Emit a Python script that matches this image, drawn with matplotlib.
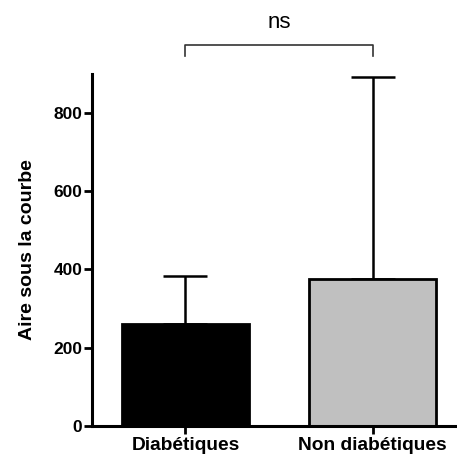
import matplotlib.pyplot as plt

plt.rcParams['font.family'] = ['Liberation Sans', 'DejaVu Sans']

groups = ['Diabétiques', 'Non diabétiques']
means = [261, 376]
upper_err = [122, 516]
bar_colors = ['black', '#c0c0c0']
y_ticks = [0, 200, 400, 600, 800]

fig = plt.figure(figsize=(4.57, 4.54), dpi=100)
ax = fig.add_axes([0.201, 0.062, 0.799, 0.775])

x = list(range(len(groups)))
ax.bar(x, means, width=0.68, color=bar_colors, edgecolor='black', linewidth=2, zorder=2)
ax.errorbar(x, means, yerr=[[0] * len(means), upper_err], fmt='none', ecolor='black',
            elinewidth=1.8, capsize=16, capthick=1.8, zorder=1)

ax.set_xlim(-0.5, 1.45)
ax.set_ylim(0, 900)
ax.set_yticks(y_ticks)
ax.set_xticks(x)
ax.set_xticklabels(groups, fontsize=13.8, fontweight='bold')
ax.set_yticklabels([str(v) for v in y_ticks], fontsize=12.5, fontweight='bold')
ax.set_ylabel('Aire sous la courbe', fontsize=14, fontweight='bold', labelpad=12)

for s in ['top', 'right']:
    ax.spines[s].set_visible(False)
for s in ['left', 'bottom']:
    ax.spines[s].set_linewidth(2.2)
ax.tick_params(width=2, length=6, pad=1)
ax.tick_params(axis='x', pad=2)

# significance bracket
y_br = 975
ax.plot([0, 0, 1, 1], [y_br - 28, y_br, y_br, y_br - 28], color='#333333', lw=1.2, clip_on=False)
ax.text(0.5, y_br + 30, 'ns', ha='center', va='bottom', fontsize=16)

fig.savefig('out.png', dpi=100)
